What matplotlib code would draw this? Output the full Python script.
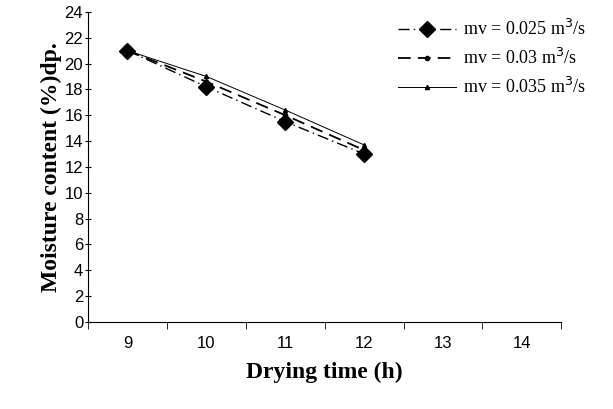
import matplotlib.pyplot as plt
import numpy as np

hours = [9, 10, 11, 12]
mv025 = [21.0, 18.2, 15.5, 13.0]
mv030 = [21.0, 18.6, 16.0, 13.3]
mv035 = [21.0, 19.0, 16.4, 13.7]
xcats = [9, 10, 11, 12, 13, 14]

fig = plt.figure(figsize=(6.13, 4.09), dpi=100)
ax = fig.add_axes([0.1436, 0.213, 0.772, 0.758])

ax.plot(hours, mv025, color='black', linestyle=(0, (8, 3, 1, 3)), lw=1.0,
        marker='D', markersize=8, label=r'mv = 0.025 m$^3$/s')
ax.plot(hours, mv030, color='black', linestyle=(0, (7, 4)), lw=1.3,
        marker='o', markersize=3, label=r'mv = 0.03 m$^3$/s')
ax.plot(hours, mv035, color='black', linestyle='-', lw=0.7,
        marker='^', markersize=3, label=r'mv = 0.035 m$^3$/s')

ax.set_xlim(8.5, 14.5)
ax.set_ylim(0, 24)
ax.set_yticks(np.arange(0, 25, 2))
ax.set_xticks(xcats)
ax.set_xticks(np.arange(8.5, 15, 1), minor=True)
ax.tick_params(axis='x', which='major', length=0, labelsize=12, pad=10)
ax.tick_params(axis='x', which='minor', length=5, direction='out')
ax.tick_params(axis='y', length=5, direction='inout', labelsize=12, pad=1)
for lab in ax.get_xticklabels() + ax.get_yticklabels():
    lab.set_family('Liberation Sans')
ax.spines['top'].set_visible(False)
ax.spines['right'].set_visible(False)

ax.set_xlabel('Drying time (h)', fontsize=17, fontweight='bold', family='Liberation Serif', labelpad=8)
ax.set_ylabel('Moisture content (%)dp.', fontsize=17, fontweight='bold', family='Liberation Serif', labelpad=2)

ax.legend(loc='upper left', bbox_to_anchor=(0.64, 1.0), frameon=False,
          prop={'family': 'Liberation Serif', 'size': 13}, handlelength=3.2,
          handletextpad=0.4, labelspacing=0.5, borderaxespad=0)

fig.savefig('out.png', dpi=100)
